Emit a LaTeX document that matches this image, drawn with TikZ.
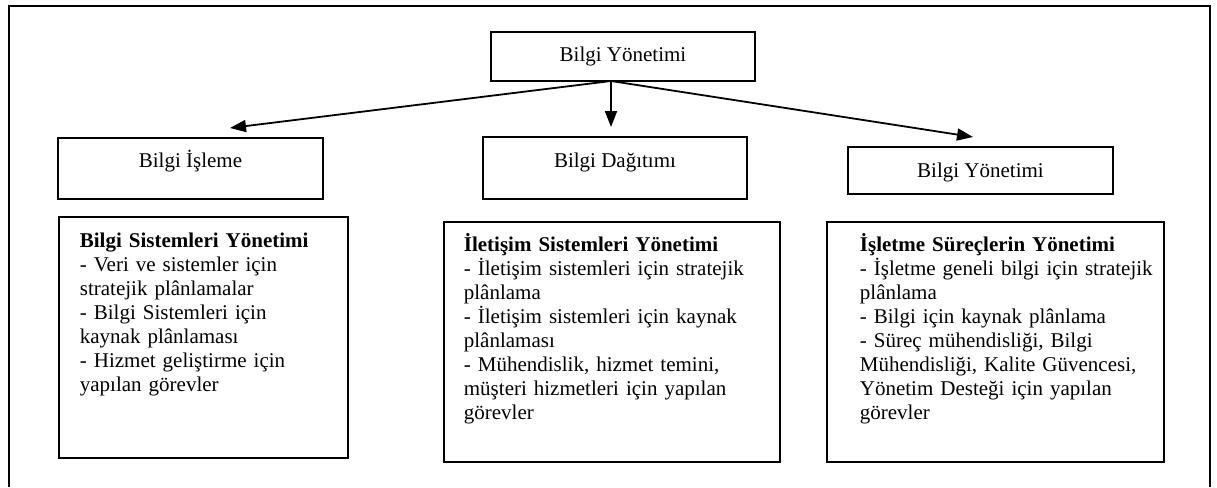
\documentclass[tikz,border=0pt]{standalone}
\usepackage{fontspec}
\setmainfont{Liberation Serif}
\usetikzlibrary{arrows.meta}
\begin{document}
\begin{tikzpicture}[x=1pt,y=-1pt,
  font=\fontsize{21}{24}\selectfont,
  box/.style={draw, line width=1.8pt, inner sep=0pt},
  head/.style={box, anchor=base},
  panel/.style={box, anchor=north west, align=left},
  link/.style={line width=1.8pt, -{Triangle[length=16pt,width=12pt]}},
  frame/.style={line width=2pt}]
\useasboundingbox (0,0) rectangle (1217,487);

% outer frame (open at the bottom edge of the page)
\draw[frame] (9,487) -- (9,6) -- (1210,6) -- (1210,487);

% top level
\node[head, minimum width=264pt, text height=30pt, text depth=19pt] (root) at (623,62) {Bilgi Yönetimi};

% second level headings
\node[head, minimum width=265pt, text height=29pt, text depth=32pt] (isleme) at (190.5,167) {Bilgi İşleme};
\node[head, minimum width=264pt, text height=30pt, text depth=32pt] (dagitim) at (615,167) {Bilgi Dağıtımı};
\node[head, minimum width=265pt, text height=30pt, text depth=17pt] (yonetim) at (980.5,177) {Bilgi Yönetimi};

% detail panels
\node[panel, text width=289pt, text height=31pt, text depth=210pt] (p1) at (58,216)
  {\leftskip=21pt \textbf{Bilgi Sistemleri Yönetimi}\\
   - Veri ve sistemler için\\
   stratejik plânlamalar\\
   - Bilgi Sistemleri için\\
   kaynak plânlaması\\
   - Hizmet geliştirme için\\
   yapılan görevler\par};
\node[panel, text width=336pt, text height=30pt, text depth=210pt] (p2) at (443,221)
  {\leftskip=20pt \textbf{İletişim Sistemleri Yönetimi}\\
   - İletişim sistemleri için stratejik\\
   plânlama\\
   - İletişim sistemleri için kaynak\\
   plânlaması\\
   - Mühendislik, hizmet temini,\\
   müşteri hizmetleri için yapılan\\
   görevler\par};
\node[panel, text width=337pt, text height=30pt, text depth=210pt] (p3) at (826,221)
  {\leftskip=33pt \textbf{İşletme Süreçlerin Yönetimi}\\
   - İşletme geneli bilgi için stratejik\\
   plânlama\\
   - Bilgi için kaynak plânlama\\
   - Süreç mühendisliği, Bilgi\\
   Mühendisliği, Kalite Güvencesi,\\
   Yönetim Desteği için yapılan\\
   görevler\par};

% connectors from the top box
\coordinate (hub) at (611,81);
\coordinate (tipL) at (230,128);
\coordinate (tipM) at (611,127);
\coordinate (tipR) at (973,137);
\draw[link] (hub) -- (tipL);
\draw[link] (hub) -- (tipM);
\draw[link] (hub) -- (tipR);
\end{tikzpicture}
\end{document}
